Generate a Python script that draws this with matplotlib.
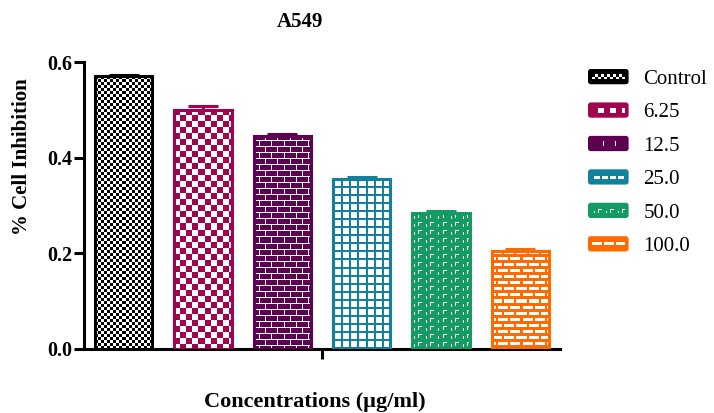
import numpy as np
import matplotlib
matplotlib.use("Agg")
import matplotlib.pyplot as plt
from matplotlib.colors import to_rgb
from matplotlib.patches import FancyBboxPatch, Patch
from matplotlib.legend_handler import HandlerBase

plt.rcParams['font.family'] = ['Liberation Serif', 'DejaVu Serif']

# =========================
# Data
# =========================
concentrations = ["Control", "6.25", "12.5", "25.0", "50.0", "100.0"]
inhibition = [0.570, 0.500, 0.446, 0.356, 0.284, 0.205]
sem = [0.003, 0.008, 0.004, 0.004, 0.005, 0.004]
bar_colors = ["#000000", "#A1034F", "#5E0052", "#12819B", "#139B62", "#FF6A00"]
patterns = ["fine_check", "check", "brick", "grid", "dash", "brick_inv"]


# =========================
# Fill textures (pixel based)
# =========================
def make_texture(kind, h, w, color):
    yy, xx = np.mgrid[0:h, 0:w]
    if kind == "fine_check":
        mask = (yy // 3 + xx // 3) % 2 == 0
    elif kind == "check":
        mask = (yy // 6 + xx // 6) % 2 == 0
    elif kind == "brick":
        shift = ((yy // 6) % 2) * 6
        mask = ~((yy % 6 == 5) | ((xx + shift) % 12 == 11))
    elif kind == "grid":
        mask = (yy % 8 < 2) | (xx % 8 < 2)
    elif kind == "dash":
        ty, tx = yy % 8, xx % 12
        white = (((ty == 1) & (tx >= 6) & (tx <= 9))
                 | ((tx == 6) & (ty >= 1) & (ty <= 4))
                 | ((tx == 2) & (ty >= 3) & (ty <= 5)))
        mask = ~white
    else:  # brick_inv
        shift = ((yy // 6) % 2) * 6
        white = (yy % 6 >= 1) & (yy % 6 <= 3) & ((xx + shift) % 12 <= 9)
        mask = ~white
    img = np.ones((h, w, 3))
    img[mask] = to_rgb(color)
    return img


class SwatchHandler(HandlerBase):
    def create_artists(self, legend, orig_handle, xdescent, ydescent,
                       width, height, fontsize, trans):
        box = FancyBboxPatch((-xdescent, -ydescent), width, height,
                             boxstyle="round,pad=0,rounding_size=2",
                             facecolor=orig_handle.get_facecolor(),
                             edgecolor="none", transform=trans)
        return [box]


fig = plt.figure(figsize=(7.14, 4.13), dpi=100)
ax = fig.add_axes([84 / 714, 64 / 413, 476 / 714, 287 / 413])

x = np.arange(len(concentrations))
ax.set_xlim(-0.5, 5.5)
ax.set_ylim(0, 0.6)

bars = ax.bar(x, inhibition, width=0.72, facecolor="none",
              edgecolor=bar_colors, linewidth=2.2, zorder=3)

# Textured fill, clipped to each bar
for bar, kind, color in zip(bars, patterns, bar_colors):
    x0, y0 = bar.get_x(), bar.get_y()
    x1, y1 = x0 + bar.get_width(), y0 + bar.get_height()
    (px0, py0), (px1, py1) = ax.transData.transform([(x0, y0), (x1, y1)])
    w = max(int(round(px1 - px0)), 1)
    h = max(int(round(py1 - py0)), 1)
    im = ax.imshow(make_texture(kind, h, w, color), extent=(x0, x1, y0, y1),
                   interpolation="nearest", aspect="auto", zorder=2)
    im.set_clip_path(bar)

# Upper error caps
for xi, v, e, c in zip(x, inhibition, sem, bar_colors):
    ax.errorbar(xi, v, yerr=[[0], [e]], fmt="none", ecolor=c,
                capsize=11, capthick=2.2, elinewidth=2.2, zorder=4)

ax.set_xlim(-0.5, 5.5)
ax.set_ylim(0, 0.6)

for side in ["top", "right"]:
    ax.spines[side].set_visible(False)
for side in ["left", "bottom"]:
    ax.spines[side].set_linewidth(2.2)

ax.set_yticks([0.0, 0.2, 0.4, 0.6])
ax.set_yticklabels(["0.0", "0.2", "0.4", "0.6"], fontsize=14.5, fontweight="bold")
ax.set_xticks([2.5])
ax.set_xticklabels([""])
ax.tick_params(axis="both", length=7, width=2.2, pad=1.5)

ax.set_xlabel("Concentrations (\u00b5g/ml)", fontsize=16, fontweight="bold")
ax.xaxis.set_label_coords((315 - 84) / 476, (349 - 392) / 287)
ax.set_ylabel("% Cell Inhibition", fontsize=15, fontweight="bold")
ax.yaxis.set_label_coords((32 - 84) / 476, (349 - 157) / 287)

fig.text(300 / 714, 1 - 22 / 413, "A549", ha="center", va="center",
         fontsize=15, fontweight="bold")

handles = [Patch(facecolor=c, label=lab) for c, lab in zip(bar_colors, concentrations)]
leg = ax.legend(handles=handles, handler_map={Patch: SwatchHandler()},
                loc="upper left", bbox_to_anchor=(588 / 714, 1 - 69 / 413),
                bbox_transform=fig.transFigure, frameon=False, fontsize=15,
                handlelength=1.95, handleheight=0.75, handletextpad=0.7,
                labelspacing=0.65, borderpad=0, borderaxespad=0)

# Small pattern strip inside each legend swatch
fig.canvas.draw()
for sw, kind, color in zip(leg.legend_handles, patterns, bar_colors):
    bb = sw.get_window_extent()
    sw_w = int(round(bb.width)) - 8
    strip = make_texture(kind, 5, sw_w, color)
    fig.figimage(strip, xo=int(round(bb.x0)) + 4,
                 yo=int(round(bb.y0 + bb.height / 2 - 2.5)), zorder=10)

plt.savefig("out.png", dpi=100)
plt.close()
